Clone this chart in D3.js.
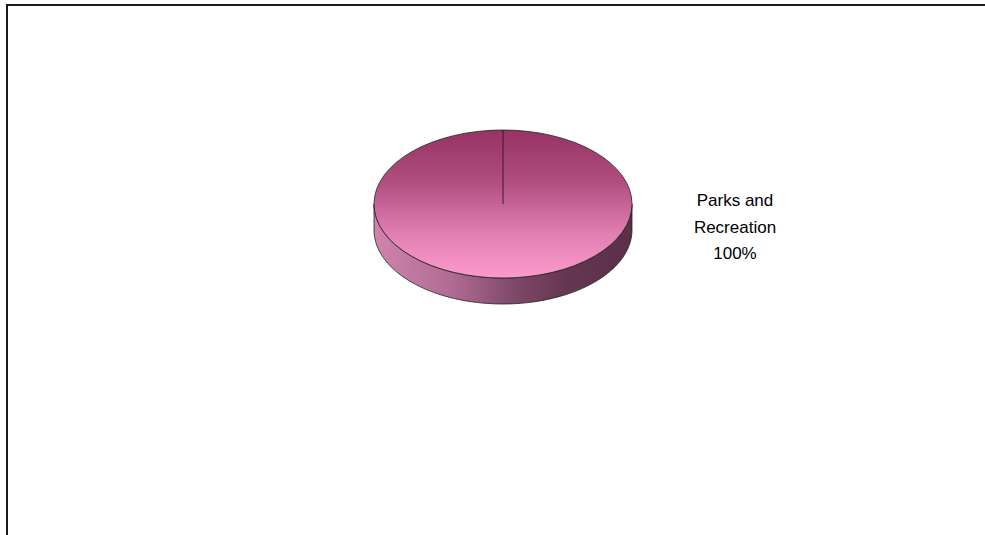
<!DOCTYPE html>
<html>
<head>
<meta charset="utf-8">
<script src="https://cdn.jsdelivr.net/npm/d3@7"></script>
<style>
  html, body { margin: 0; padding: 0; background: #fff; }
  svg { display: block; }
</style>
</head>
<body>
<svg id="chart" width="985" height="535"></svg>
<script>
// Datos del gráfico
const categories = ["Parks and Recreation"];
const values = [100];
const labelLines = ["Parks and", "Recreation", "100%"];

const svg = d3.select("#chart");
const W = 985, H = 535;

// Marco del área del gráfico (solo arriba e izquierda visibles)
svg.append("path")
  .attr("d", `M7,${H + 5} L7,5 L${W + 5},5`)
  .attr("fill", "none")
  .attr("stroke", "#1a1a1a")
  .attr("stroke-width", 2);

// Geometría del pastel 3D
const cx = 503, cy = 204;
const rx = 129, ry = 74;
const depth = 26;
const tilt = ry / rx;

const defs = svg.append("defs");

const topGrad = defs.append("linearGradient")
  .attr("id", "topGrad")
  .attr("x1", 0).attr("y1", 0).attr("x2", 0).attr("y2", 1);
topGrad.append("stop").attr("offset", "0%").attr("stop-color", "#973264");
topGrad.append("stop").attr("offset", "35%").attr("stop-color", "#b04e80");
topGrad.append("stop").attr("offset", "70%").attr("stop-color", "#e17fb3");
topGrad.append("stop").attr("offset", "100%").attr("stop-color", "#fd9acc");

const sideGrad = defs.append("linearGradient")
  .attr("id", "sideGrad")
  .attr("x1", 0).attr("y1", 0).attr("x2", 1).attr("y2", 0);
sideGrad.append("stop").attr("offset", "0%").attr("stop-color", "#d084ad");
sideGrad.append("stop").attr("offset", "30%").attr("stop-color", "#b06c92");
sideGrad.append("stop").attr("offset", "55%").attr("stop-color", "#7d4767");
sideGrad.append("stop").attr("offset", "75%").attr("stop-color", "#653651");
sideGrad.append("stop").attr("offset", "100%").attr("stop-color", "#5a2f48");

const pie = d3.pie().sort(null).value(d => d);
const arcs = pie(values);

const arc = d3.arc().innerRadius(0).outerRadius(rx);

// punto del borde elíptico para un ángulo de d3 (0 = arriba, sentido horario)
function edge(a, dy) {
  return [cx + rx * Math.sin(a), cy - ry * Math.cos(a) + (dy || 0)];
}

const g = svg.append("g");

// Lado (parte frontal visible, entre PI/2 y 3PI/2)
arcs.forEach((d, i) => {
  const a0 = Math.max(d.startAngle, Math.PI / 2);
  const a1 = Math.min(d.endAngle, 3 * Math.PI / 2);
  if (a1 <= a0) return;
  const steps = 80;
  const angles = d3.range(steps + 1).map(k => a0 + (a1 - a0) * k / steps);
  const top = angles.map(a => edge(a, 0));
  const bottom = angles.slice().reverse().map(a => edge(a, depth));
  g.append("path")
    .attr("d", d3.line()(top.concat(bottom)) + "Z")
    .attr("fill", "url(#sideGrad)")
    .attr("stroke", "#222")
    .attr("stroke-width", 0.8);
});

// Cara superior
g.selectAll("path.slice")
  .data(arcs)
  .enter()
  .append("path")
  .attr("class", "slice")
  .attr("transform", `translate(${cx},${cy}) scale(1,${tilt})`)
  .attr("d", arc)
  .attr("fill", "url(#topGrad)")
  .attr("stroke", "#222")
  .attr("stroke-width", 0.8)
  .attr("vector-effect", "non-scaling-stroke");

// Línea de borde de la porción (radio inicial)
arcs.forEach(d => {
  const p = edge(d.startAngle, 0);
  g.append("line")
    .attr("x1", cx).attr("y1", cy)
    .attr("x2", p[0]).attr("y2", p[1])
    .attr("stroke", "#3a1a2a")
    .attr("stroke-width", 1);
});

// Etiqueta
const label = svg.append("text")
  .attr("x", 735)
  .attr("y", 206)
  .attr("text-anchor", "middle")
  .attr("font-family", "Liberation Sans, Arial, sans-serif")
  .attr("font-size", 17)
  .attr("fill", "#000");

labelLines.forEach((t, i) => {
  label.append("tspan")
    .attr("x", 735)
    .attr("dy", i === 0 ? 0 : 26.5)
    .text(t);
});
</script>
</body>
</html>
